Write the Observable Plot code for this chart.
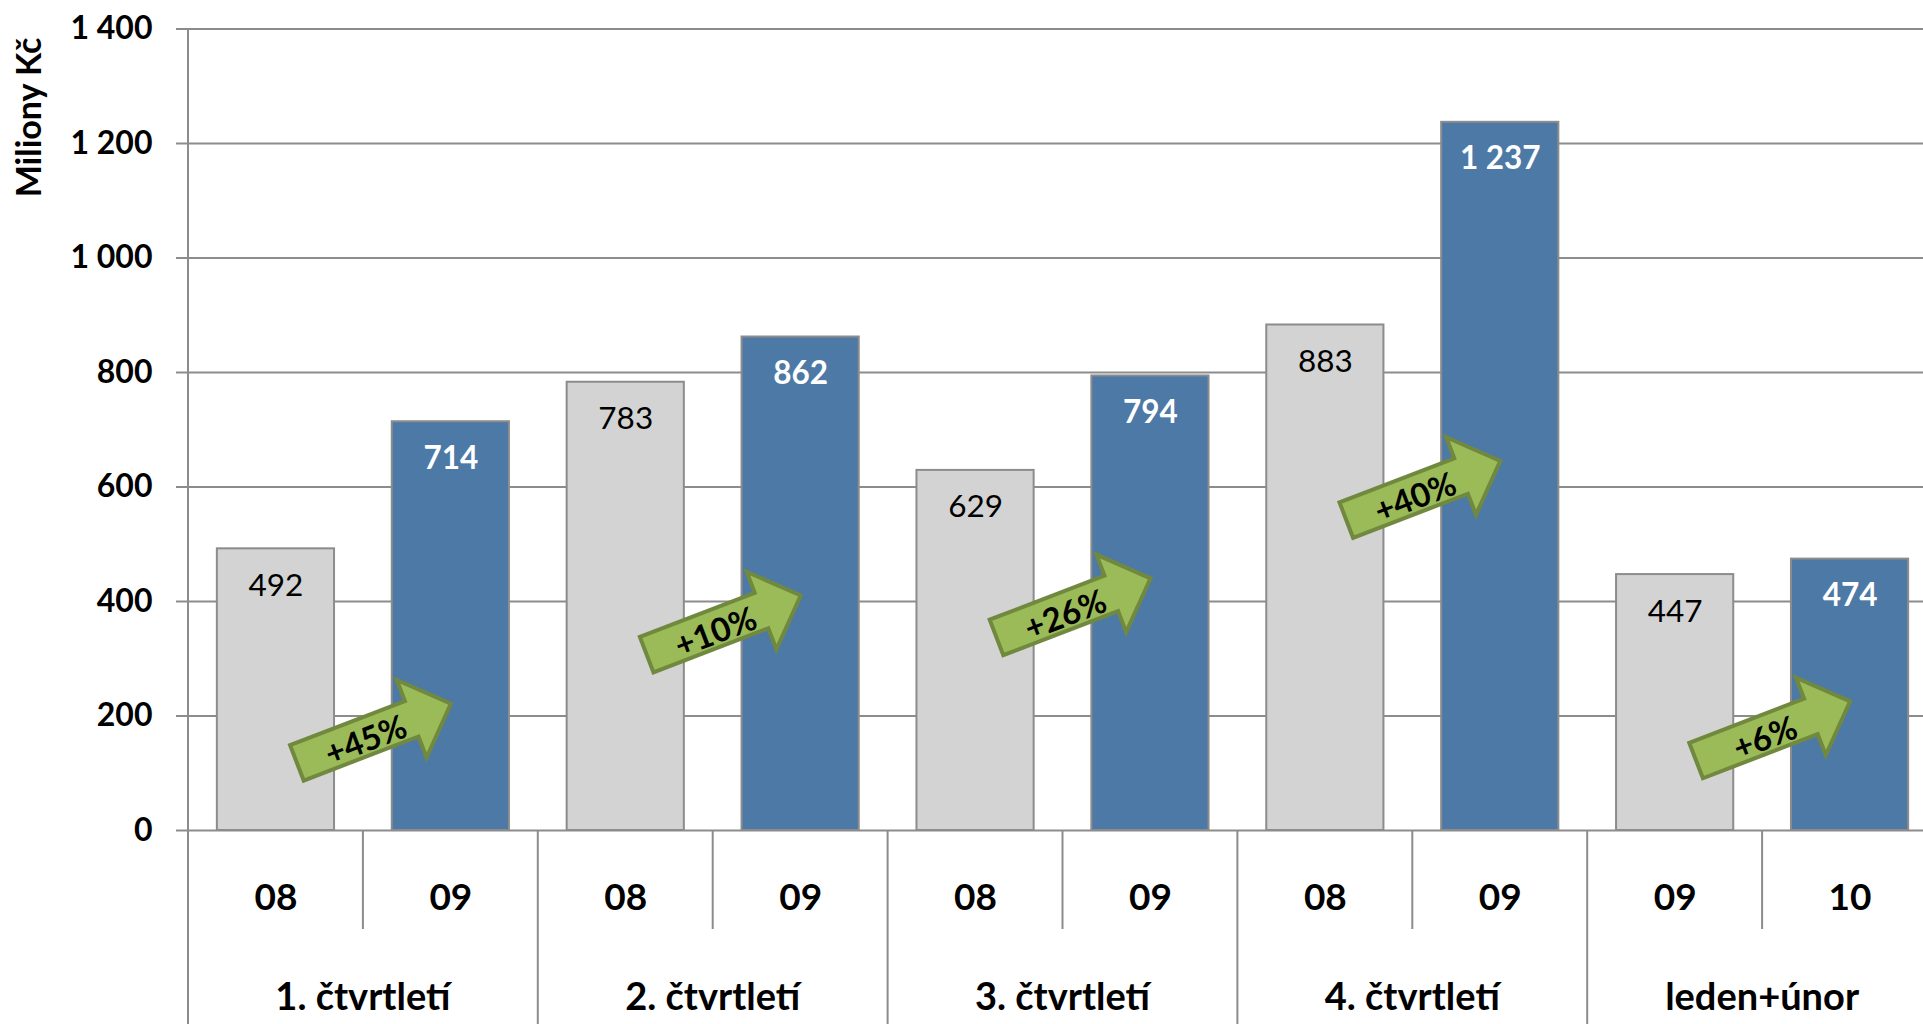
<!DOCTYPE html>
<html><head><meta charset="utf-8">
<script src="https://cdn.jsdelivr.net/npm/d3@7"></script>
<script src="https://cdn.jsdelivr.net/npm/@observablehq/plot@0.6"></script>
<style>
html,body{margin:0;padding:0;background:#fff;overflow:hidden;}
#chart svg{overflow:visible;display:block;max-width:none !important;}
</style></head><body><div id="chart"></div>
<script>
const groups = ["1. čtvrtletí", "2. čtvrtletí", "3. čtvrtletí", "4. čtvrtletí", "leden+únor"];
const prevYears = ["08", "08", "08", "08", "09"];
const currYears = ["09", "09", "09", "09", "10"];
const prevValues = [492, 783, 629, 883, 447];
const currValues = [714, 862, 794, 1237, 474];
const changes = ["+45%", "+10%", "+26%", "+40%", "+6%"];
const arrowLevels = [169, 358, 388, 593, 173];
const yTicks = [0, 200, 400, 600, 800, 1000, 1200, 1400];
const yLabel = "Miliony Kč";

const rows = [];
groups.forEach((g, i) => {
  rows.push({group: g, year: prevYears[i], key: g + "|" + prevYears[i], value: prevValues[i], series: "prev"});
  rows.push({group: g, year: currYears[i], key: g + "|" + currYears[i], value: currValues[i], series: "curr"});
});
const arrows = groups.map((g, i) => ({group: g, from: rows[2 * i].key, to: rows[2 * i + 1].key, level: arrowLevels[i], label: changes[i]}));

const fmt = v => v >= 1000 ? Math.floor(v / 1000) + " " + String(v % 1000).padStart(3, "0") : String(v);
const FONT = "Lato, 'Open Sans', sans-serif";
const GRID = "#8c8c8c";

function bandInfo(x) {
  const step = x(rows[1].key) - x(rows[0].key);
  const bw = typeof x.bandwidth === "function" ? x.bandwidth() : (typeof x.bandwidth === "number" ? x.bandwidth : step * 0.67);
  return {step, bw};
}

function lowerAxis(index, scales, values, dims) {
  const x = scales.x;
  const {step, bw} = bandInfo(x);
  const g = d3.create("svg:g");
  const y0 = dims.height - dims.marginBottom;
  g.append("line").attr("x1", dims.marginLeft).attr("x2", dims.marginLeft)
    .attr("y1", dims.marginTop).attr("y2", dims.height + 2)
    .attr("stroke", GRID).attr("stroke-width", 2);
  groups.forEach((grp, i) => {
    const c1 = x(rows[2 * i].key) + bw / 2;
    const c2 = x(rows[2 * i + 1].key) + bw / 2;
    const mid = (c1 + c2) / 2;
    g.append("line").attr("x1", mid).attr("x2", mid).attr("y1", y0).attr("y2", y0 + 99)
      .attr("stroke", GRID).attr("stroke-width", 2);
    const right = c2 + step / 2;
    g.append("line").attr("x1", right).attr("x2", right).attr("y1", y0).attr("y2", dims.height + 2)
      .attr("stroke", GRID).attr("stroke-width", 2);
    g.append("text").attr("x", mid).attr("y", y0 + 165)
      .attr("text-anchor", "middle").attr("dominant-baseline", "central")
      .attr("font-family", FONT).attr("font-size", 38).attr("font-weight", "bold").attr("fill", "#000")
      .text(grp);
  });
  g.append("text").attr("transform", `translate(${dims.marginLeft - 161},${dims.marginTop + 89}) rotate(-90)`)
    .attr("text-anchor", "middle").attr("dominant-baseline", "central")
    .attr("font-family", FONT).attr("font-size", 34).attr("font-weight", "bold").attr("fill", "#000")
    .text(yLabel);
  return g.node();
}

function arrowMark(index, scales) {
  const {x, y} = scales;
  const {bw} = bandInfo(x);
  const g = d3.create("svg:g");
  const L = 82.5, sh = 19, hh = 41.5, hb = 40.5;
  const pts = [[-L, -sh], [hb, -sh], [hb, -hh], [L, 0], [hb, hh], [hb, sh], [-L, sh]].map(p => p.join(",")).join(" ");
  for (const a of arrows) {
    const cx = (x(a.from) + x(a.to)) / 2 + bw / 2 + 11;
    const cy = y(a.level);
    const ag = g.append("g").attr("transform", `translate(${cx},${cy}) rotate(-21)`);
    ag.append("polygon").attr("points", pts).attr("fill", "#9BBB59").attr("stroke", "#71893F")
      .attr("stroke-width", 4).attr("stroke-linejoin", "miter");
    ag.append("text").attr("x", -10).attr("y", 2).attr("text-anchor", "middle").attr("dominant-baseline", "central")
      .attr("font-family", FONT).attr("font-size", 33).attr("font-weight", "bold").attr("fill", "#000")
      .text(a.label);
  }
  return g.node();
}

const chart = Plot.plot({
  width: 1937,
  height: 1024,
  marginLeft: 188,
  marginRight: 0,
  marginTop: 28.5,
  marginBottom: 194,
  style: {fontFamily: FONT, background: "#fff", overflow: "visible", maxWidth: "none"},
  x: {domain: rows.map(d => d.key), paddingInner: 0.33, paddingOuter: 0.165, round: false, axis: null},
  y: {domain: [0, 1400], axis: null},
  color: {domain: ["prev", "curr"], range: ["#D3D3D3", "#4D79A6"]},
  marks: [
    Plot.ruleY(yTicks, {stroke: GRID, strokeWidth: 2, strokeOpacity: 1}),
    Plot.axisY(yTicks, {tickFormat: fmt, tickSize: 12, tickPadding: 24, fontSize: 32, fontWeight: "bold",
      stroke: GRID, strokeWidth: 2, fill: "#000", label: null}),
    Plot.barY(rows, {x: "key", y: "value", fill: "series", stroke: GRID, strokeWidth: 2}),
    Plot.text(rows.filter(d => d.series === "prev"), {x: "key", y: "value", text: d => fmt(d.value), dy: 37,
      fill: "#000", fontSize: 31.5, fontWeight: "normal", lineAnchor: "middle"}),
    Plot.text(rows.filter(d => d.series === "curr"), {x: "key", y: "value", text: d => fmt(d.value), dy: 37,
      fill: "#fff", fontSize: 31.5, fontWeight: "bold", lineAnchor: "middle"}),
    Plot.text(rows, {x: "key", text: "year", frameAnchor: "bottom", dy: 68, fill: "#000",
      fontSize: 37, fontWeight: "bold", lineAnchor: "middle"}),
    lowerAxis,
    arrowMark
  ]
});
document.getElementById("chart").appendChild(chart);
</script>
</body></html>
